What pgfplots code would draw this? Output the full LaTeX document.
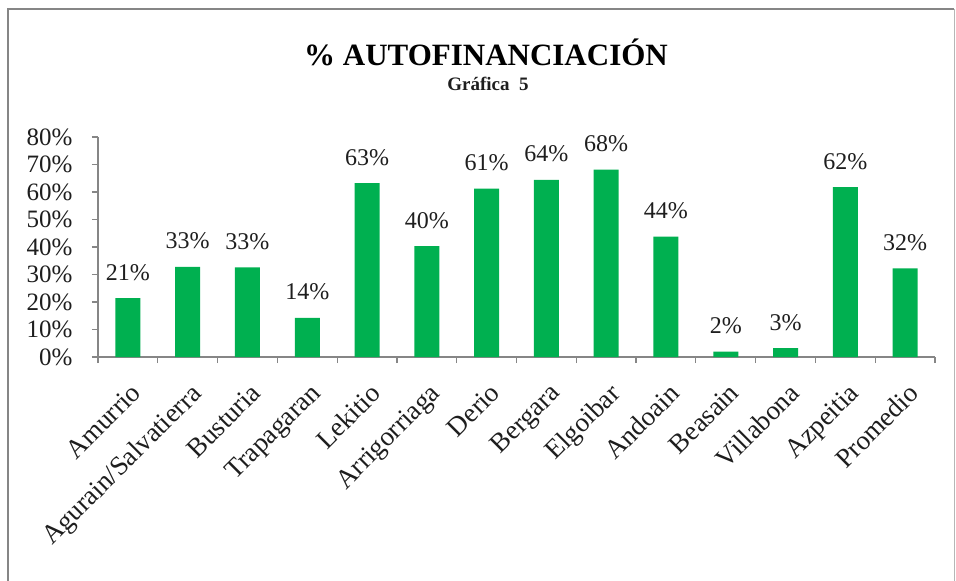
\documentclass[border=0pt]{standalone}
\usepackage{fontspec}
\setmainfont{Liberation Serif}
\usepackage{pgfplots}
\pgfplotsset{compat=1.18}
\definecolor{bargreen}{RGB}{0,176,80}
\definecolor{axgray}{RGB}{134,134,134}
\definecolor{txt}{RGB}{30,30,30}
\begin{document}
\begin{tikzpicture}
\begin{axis}[
    name=ax, at={(0,0)}, anchor=south west,
    scale only axis, width=837pt, height=220pt,
    ymin=0, ymax=80, xmin=-0.5, xmax=13.5,
    ybar, bar width=25pt,
    axis x line*=bottom, axis y line*=left,
    axis line style={axgray, line width=1.5pt, -},
    ytick={0,10,...,80},
    yticklabel={\pgfmathprintnumber{\tick}\%},
    xtick={0,...,13},
    xticklabels={Amurrio,Agurain/Salvatierra,Busturia,Trapagaran,Lekitio,Arrigorriaga,Derio,Bergara,Elgoibar,Andoain,Beasain,Villabona,Azpeitia,Promedio},
    minor xtick={-0.5,0.5,...,13.5},
    major x tick style={draw=none},
    tick align=outside,
    major tick length=6pt, minor tick length=6pt,
    tick style={axgray, line width=1.2pt},
    y tick label style={font=\fontsize{25}{25}\selectfont, text=txt, xshift=-16pt},
    x tick label style={yshift=-14pt, xshift=2pt, rotate=45, anchor=north east, font=\fontsize{27}{27}\selectfont, text=txt},
    /pgf/number format/assume math mode=true,
    nodes near coords={\pgfmathprintnumber[fixed,precision=0]{\pgfplotspointmeta}\%},
    nodes near coords style={font=\fontsize{24}{24}\selectfont, text=txt, anchor=base, yshift=18pt},
]
\addplot[fill=bargreen, draw=none] coordinates {
    (0,21.4) (1,32.8) (2,32.6) (3,14.2) (4,63.2) (5,40.3) (6,61.2)
    (7,64.4) (8,68.1) (9,43.8) (10,2.0) (11,3.2) (12,61.8) (13,32.2)
};
\end{axis}
\node[font=\bfseries\fontsize{31}{31}\selectfont, text=black] at (388pt,305pt) {\% AUTOFINANCIACIÓN};
\node[font=\bfseries\fontsize{19}{19}\selectfont, text=txt] at (390pt,273pt) {Gráfica\ \ 5};
\draw[axgray, line width=2.5pt] (-90pt,-224pt) -- (-90pt,348pt) -- (856pt,348pt);
\draw[axgray!60, line width=1pt] (856pt,348pt) -- (856pt,-224pt);
\pgfresetboundingbox
\path[use as bounding box] (-98pt,-224pt) rectangle (858pt,357pt);
\end{tikzpicture}
\end{document}
